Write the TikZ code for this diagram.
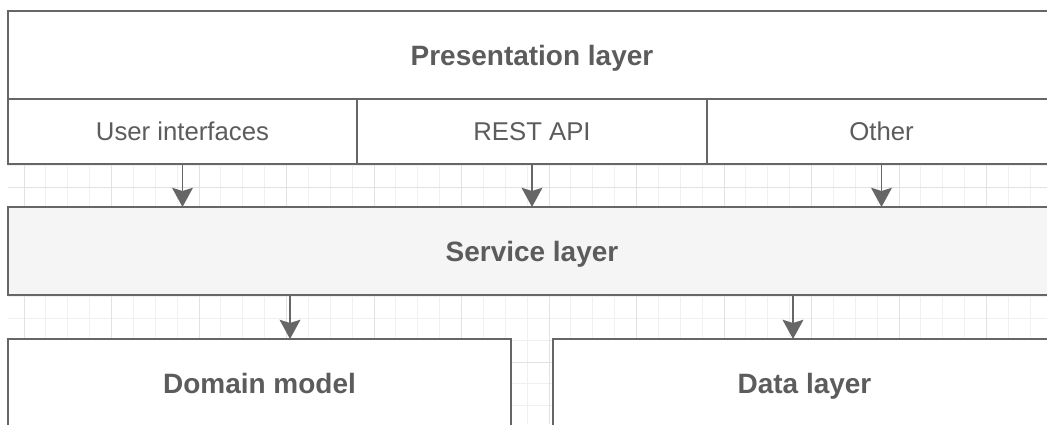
\documentclass[tikz,border=0pt]{standalone}
\usepackage{fontspec}
\setmainfont{Liberation Sans}
\usepackage{xcolor}
\usepackage{tikz}
\usetikzlibrary{arrows.meta}
\definecolor{ink}{HTML}{666666}
\definecolor{txt}{HTML}{5C5C5C}
\definecolor{svc}{HTML}{F5F5F5}
\definecolor{gridlo}{HTML}{F0F0F0}
\definecolor{gridhi}{HTML}{E2E2E2}
\tikzset{
  layer/.style={draw=ink,line width=1.3pt,fill=white,inner sep=0pt,outer sep=0pt,text=txt,font=\fontsize{19.9}{24}\selectfont\bfseries,text height=0.5cm,text depth=0pt,minimum height=2.2cm},
  sublayer/.style={layer,font=\fontsize{18.3}{22}\selectfont,text height=0.46cm,minimum height=1.625cm},
  arr/.style={draw=ink,line width=1.3pt,-{Stealth[length=0.48cm,width=0.52cm,inset=0.08cm]}},
  gridminor/.style={draw=gridlo,line width=0.6pt},
  gridmajor/.style={draw=gridhi,line width=0.6pt},
}
\begin{document}
\begin{tikzpicture}[x=0.025cm,y=-0.025cm]
  \useasboundingbox (0,0) rectangle (1047,424);
  \clip (0,0) rectangle (1047,424);
  % background grid
  \begin{scope}
    \clip (8,11) rectangle (1047,424);
    \foreach \k in {0,...,46} {\draw[gridminor] (24+21.875*\k,11) -- (24+21.875*\k,424);}
    \foreach \k in {0,...,18} {\draw[gridminor] (8,12+21.875*\k) -- (1047,12+21.875*\k);}
    \foreach \k in {0,...,11} {\draw[gridmajor] (24+87.5*\k,11) -- (24+87.5*\k,424);}
    \foreach \k in {0,...,4} {\draw[gridmajor] (8,12+87.5*\k) -- (1047,12+87.5*\k);}
  \end{scope}
  % layers
  \node[layer,minimum width=26.2cm] (pres) at (532,55) {Presentation layer};
  \node[sublayer,minimum width=8.725cm] (ui) at (182.5,131.5) {User interfaces};
  \node[sublayer,minimum width=8.75cm] (rest) at (532,131.5) {REST API};
  \node[sublayer,minimum width=8.725cm] (other) at (881.5,131.5) {Other};
  \node[layer,fill=svc,minimum width=26.2cm] (service) at (532,251) {Service layer};
  \node[layer,minimum width=12.575cm] (domain) at (259.5,383) {Domain model};
  \node[layer,minimum width=12.575cm] (data) at (804.5,383) {Data layer};
  % calls
  \draw[arr] (ui.south) -- (ui.south |- service.north);
  \draw[arr] (rest.south) -- (rest.south |- service.north);
  \draw[arr] (other.south) -- (other.south |- service.north);
  \draw[arr] ([xshift=0.7625cm]domain.north |- service.south) -- ([xshift=0.7625cm]domain.north);
  \draw[arr] ([xshift=-0.2875cm]data.north |- service.south) -- ([xshift=-0.2875cm]data.north);
\end{tikzpicture}
\end{document}
